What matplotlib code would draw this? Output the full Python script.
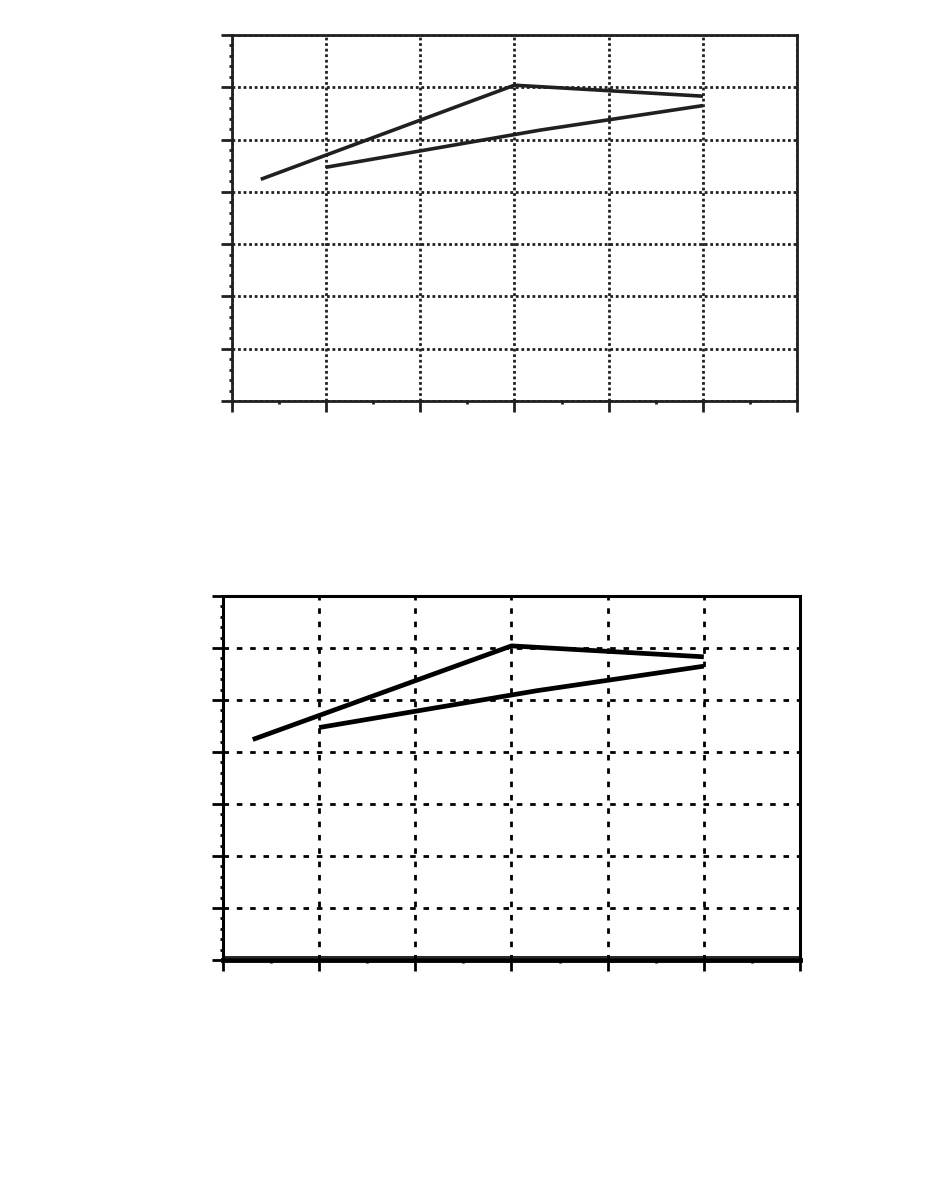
import matplotlib
matplotlib.use("Agg")
import matplotlib.pyplot as plt
from matplotlib.ticker import MultipleLocator, NullFormatter

# two series (no axis labels in the original)
x_a = [0.31, 3.0, 5.0]
y_a = [4.24, 6.04, 5.83]

x_b = [1.0, 3.27, 5.0]
y_b = [4.47, 5.18, 5.65]

x_lim = (0, 6)
y_lim = (0, 7)


def style_axes(ax, color, spine_w, grid_style, grid_w):
    ax.set_xlim(*x_lim)
    ax.set_ylim(*y_lim)
    ax.xaxis.set_major_locator(MultipleLocator(1))
    ax.xaxis.set_minor_locator(MultipleLocator(0.5))
    ax.yaxis.set_major_locator(MultipleLocator(1))
    ax.yaxis.set_minor_locator(MultipleLocator(0.2))
    ax.xaxis.set_major_formatter(NullFormatter())
    ax.yaxis.set_major_formatter(NullFormatter())
    for s in ax.spines.values():
        s.set_color(color)
        s.set_linewidth(spine_w)
    ax.tick_params(which="major", direction="out", length=8, width=2, color=color)
    ax.tick_params(which="minor", direction="out", length=2.5, width=2, color=color)
    ax.grid(True, which="major", color=color, linestyle=grid_style, linewidth=grid_w)
    ax.set_axisbelow(True)


fig = plt.figure(figsize=(9.36, 12.03), dpi=100)

# top panel: dotted grid
ax1 = fig.add_axes([0.2474, 0.6667, 0.6044, 0.3042])
style_axes(ax1, "#231f20", 2.0, (0, (1, 1)), 2.0)
ax1.plot(x_a, y_a, color="#231f20", linewidth=2.6, solid_capstyle="butt")
ax1.plot(x_b, y_b, color="#231f20", linewidth=2.6, solid_capstyle="butt")

# bottom panel: dashed grid, heavier lines
ax2 = fig.add_axes([0.2382, 0.2020, 0.6165, 0.3026])
style_axes(ax2, "black", 2.2, (0, (2.0, 2.8)), 2.0)
ax2.spines["bottom"].set_linewidth(3.5)
ax2.plot([0, 1], [0.008, 0.008], transform=ax2.transAxes, color="black", linewidth=1.2)
ax2.plot(x_a, y_a, color="black", linewidth=3.4, solid_capstyle="butt")
ax2.plot(x_b, y_b, color="black", linewidth=3.4, solid_capstyle="butt")

fig.savefig("out.png", dpi=100, facecolor="white")
